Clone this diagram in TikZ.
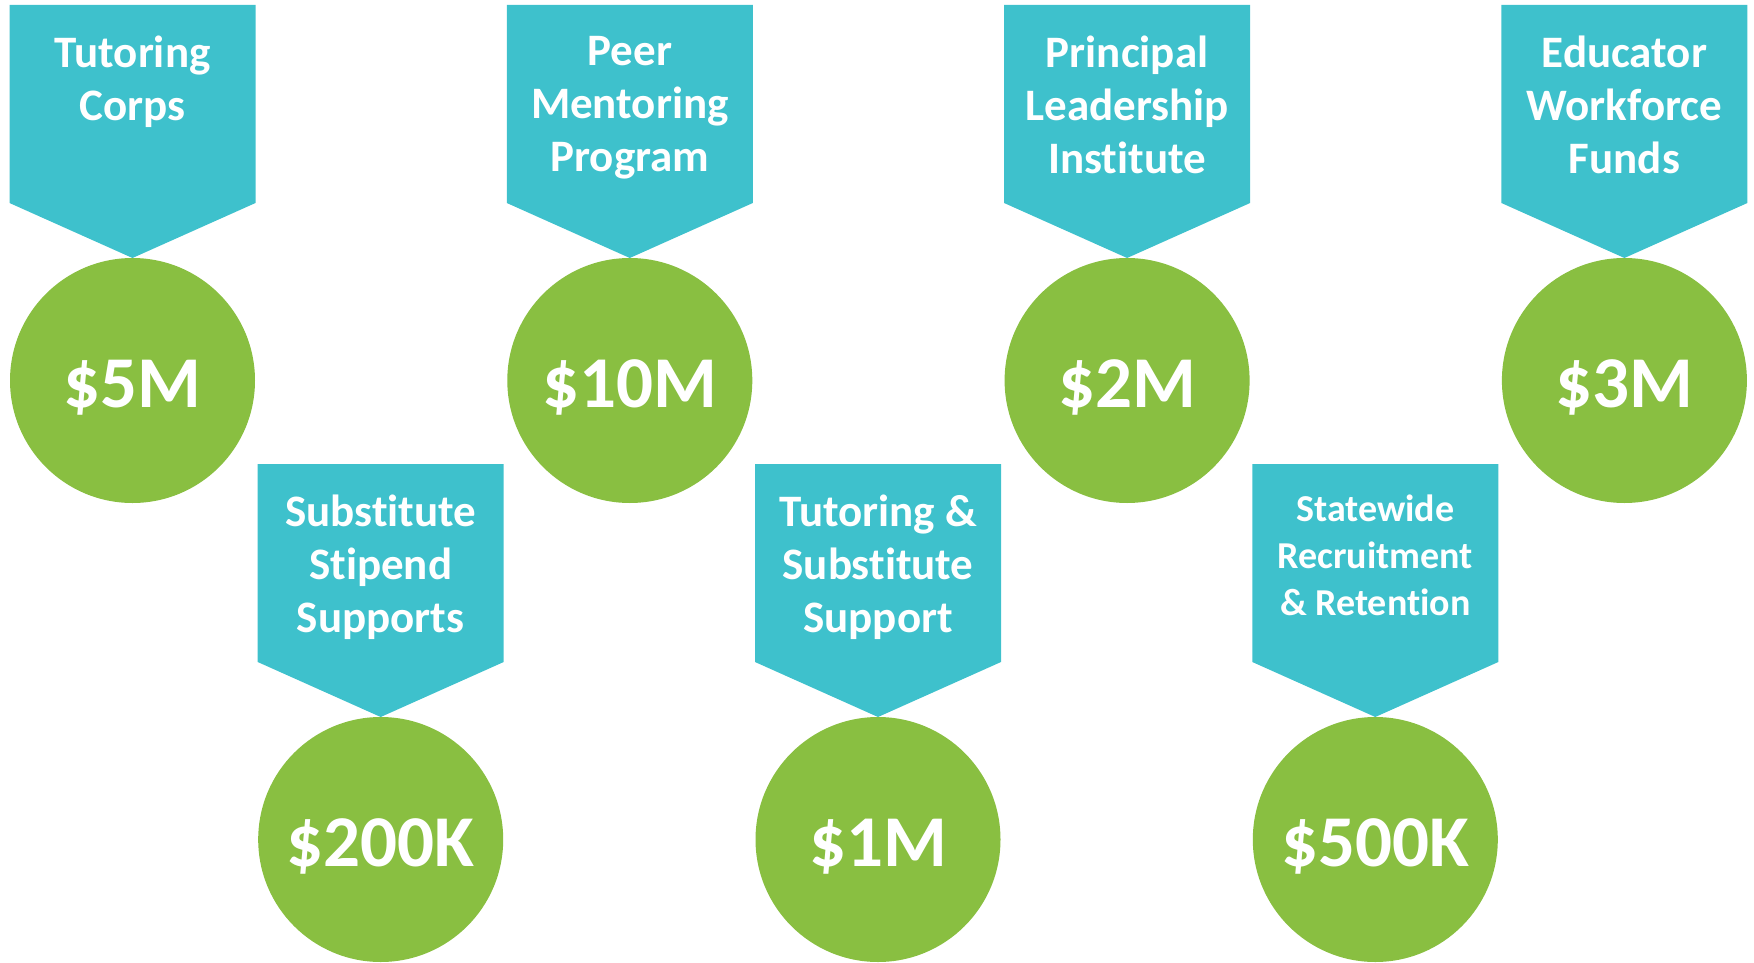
\documentclass[tikz,border=0pt]{standalone}
\usepackage{fontspec}
\setmainfont{Carlito}[Ligatures=NoCommon]
\definecolor{tealA}{RGB}{62,193,204}
\definecolor{greenA}{RGB}{137,191,65}
\tikzset{
  coin/.style={circle, fill=greenA, minimum size=245pt, inner sep=0pt, text=white,
    font=\fontsize{73}{73}\selectfont\bfseries, text height=54pt, text depth=0pt},
  lab/.style={anchor=north, inner sep=0pt, align=center, text=white,
    font=\fontsize{45}{53}\selectfont\bfseries},
  labsmall/.style={lab, font=\fontsize{38}{47}\selectfont\bfseries},
  banner/.style={fill=tealA}
}
\newcommand\Badge[6]{%
  \fill[banner] ({#2-123},{#3}) -- ({#2+123},{#3}) -- ({#2+123},{#3+198}) -- ({#2},{#3+253}) -- ({#2-123},{#3+198}) -- cycle;
  \node[coin] (#1c) at ({#2},{#3+375.5}) {#5};
  \node[#6] (#1t) at ({#2},{#3+31}) {#4};
}
\begin{document}
\begin{tikzpicture}[x=1pt,y=-1pt]
\useasboundingbox (0,0) rectangle (1754,963);
\Badge{a}{132.5}{5}{Tutoring\\Corps}{\$5M}{lab}
\Badge{b}{629.8}{5}{Peer\\Mentoring\\Program}{\$10M}{lab}
\Badge{c}{1127.1}{5}{Principal\\Leadership\\Institute}{\$2M}{lab}
\Badge{d}{1624.4}{5}{Educator\\Workforce\\Funds}{\$3M}{lab}
\Badge{e}{380.7}{464}{Substitute\\Stipend\\Supports}{\$200K}{lab}
\Badge{f}{878}{464}{Tutoring \&\\Substitute\\Support}{\$1M}{lab}
\Badge{g}{1375.3}{464}{Statewide\\Recruitment\\\& Retention}{\$500K}{labsmall}
\end{tikzpicture}
\end{document}
